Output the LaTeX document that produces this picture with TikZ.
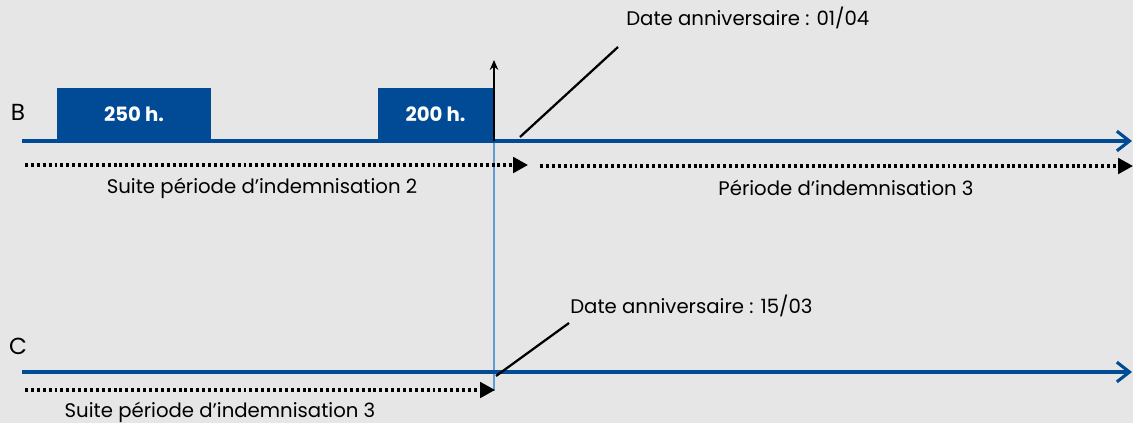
\documentclass[tikz,border=0pt]{standalone}
\usepackage{fontspec}
\setmainfont{Poppins}
\usetikzlibrary{arrows.meta}
\definecolor{bleu}{RGB}{0,74,150}
\definecolor{clair}{RGB}{95,155,215}
\definecolor{fond}{RGB}{230,230,230}
\tikzset{
  axe/.style={bleu,line width=2.2pt,-{Straight Barb[length=9pt,width=14pt,line width=2.2pt]}},
  suite/.style={black,line width=2.2pt,dash pattern=on 2.1pt off 2.1pt,-{Triangle[length=10.5pt,width=11pt]}},
  trait/.style={black,line width=1.6pt},
  bloc/.style={fill=bleu,text=white,font=\fontsize{14}{16}\selectfont\bfseries,minimum height=1.325cm,inner sep=0pt},
  texte/.style={font=\fontsize{14}{17}\selectfont,inner sep=0pt},
  lettre/.style={font=\fontsize{16.5}{19}\selectfont,inner sep=0pt},
}
\begin{document}
\begin{tikzpicture}[x=0.025cm,y=-0.025cm]
  \useasboundingbox[fill=fond] (0,0) rectangle (1133,423);
  % repere commun
  \coordinate (rB) at (494,141);
  \coordinate (rC) at (494,391);
  \draw[clair,line width=1.1pt] (rB) -- (rC);
  % ligne B
  \node[lettre] (B) at (18,112) {B};
  \coordinate (b0) at (22,141);
  \coordinate (b1) at (1132,141);
  \node[bloc,minimum width=3.85cm] (h250) at (134,114.5) {250 h.};
  \node[bloc,minimum width=2.875cm] (h200) at (435.5,114.5) {200 h.};
  \draw[axe] (b0) -- (b1);
  \coordinate (haut) at (494,60);
  \draw[black,line width=1.2pt,-{Stealth[length=7pt,width=6pt]}] (rB) -- (haut);
  \node[texte,anchor=west] (dateB) at (626,18) {Date anniversaire : 01/04};
  \coordinate (pB0) at (520,137);
  \coordinate (pB1) at (618,47);
  \draw[trait] (pB0) -- (pB1);
  \coordinate (p2a) at (25,165);
  \coordinate (p2b) at (528,165);
  \coordinate (p3a) at (540,166);
  \coordinate (p3b) at (1133,166);
  \draw[suite] (p2a) -- (p2b);
  \draw[suite] (p3a) -- (p3b);
  \node[texte] (ind2) at (262,188) {Suite période d’indemnisation 2};
  \node[texte] (ind3) at (846,188) {Période d’indemnisation 3};
  % ligne C
  \node[lettre] (C) at (18,346) {C};
  \coordinate (c0) at (22,372);
  \coordinate (c1) at (1132,372);
  \draw[axe] (c0) -- (c1);
  \node[texte,anchor=west] (dateC) at (570,306) {Date anniversaire : 15/03};
  \coordinate (pC0) at (496,376);
  \coordinate (pC1) at (569,323);
  \draw[trait] (pC0) -- (pC1);
  \coordinate (s3a) at (25,390);
  \coordinate (s3b) at (495,390);
  \draw[suite] (s3a) -- (s3b);
  \node[texte] (suite3) at (220,412) {Suite période d’indemnisation 3};
\end{tikzpicture}
\end{document}
